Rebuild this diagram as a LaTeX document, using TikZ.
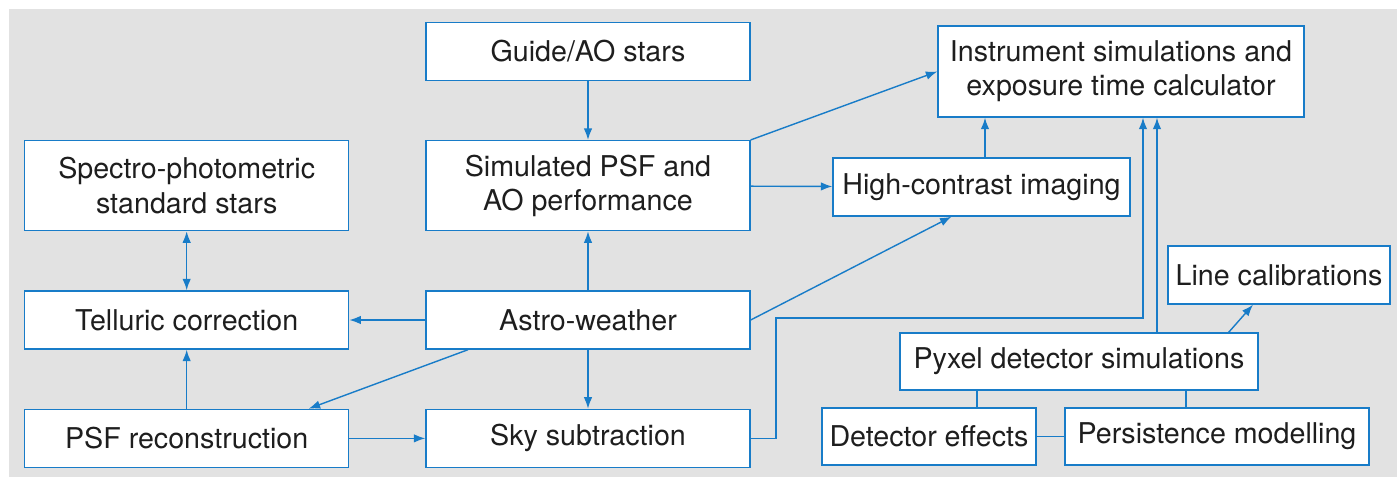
\documentclass[tikz,border=0pt]{standalone}
\usepackage{fontspec}
\setmainfont{TeX Gyre Heros}
\usepackage{tikz}
\usetikzlibrary{arrows.meta,positioning}

\definecolor{esoblue}{RGB}{24,124,200}
\definecolor{panelgrey}{RGB}{226,226,226}
\definecolor{inktext}{RGB}{30,30,30}

\begin{document}
\begin{tikzpicture}[x=0.02cm,y=-0.02cm,>={Latex[length=2.3mm,width=1.7mm]},
      node distance=1.18cm and 1.52cm,esoblue,line width=0.8pt,
      box/.style={rectangle,draw=esoblue,fill=white,line width=0.8pt,
        text=inktext,align=center,minimum height=1.16cm,
        font=\fontsize{16.3}{19.5}\selectfont},
      wide/.style={box,minimum width=6.48cm},
      tall/.style={minimum height=1.8cm},
      link/.style={->},
      tie/.style={-}]
        \useasboundingbox (0,0) rectangle (1397,477);
        \fill[panelgrey] (9,9) rectangle (1397,477);
        % middle column
        \node[wide] (astro) at (588,320) {Astro-weather};
        \node[wide,tall] (simpsf) [above = of astro] {Simulated PSF and\\AO performance};
        \node[wide] (guide) [above = of simpsf] {Guide/AO stars};
        \node[wide] (sky) [below = of astro] {Sky subtraction};
        % left column
        \node[wide] (telluric) [left = of astro] {Telluric correction};
        \node[wide,tall] (spectro) [above = of telluric] {Spectro-photometric\\standard stars};
        \node[wide] (psfrec) [below = of telluric] {PSF reconstruction};
        % right part
        \node[box,minimum width=7.32cm,minimum height=1.82cm] (inst) at (1121,71.5)
             {Instrument simulations and\\exposure time calculator};
        \node[box,minimum width=5.94cm] (hci) at (981.5,187) {High-contrast imaging};
        \node[box,minimum width=4.44cm] (linecal) at (1279,275) {Line calibrations};
        \node[box,minimum width=7.16cm,minimum height=1.14cm] (pyxel) at (1079,361.5)
             {Pyxel detector simulations};
        \node[box,minimum width=4.28cm,minimum height=1.14cm] (deteff) at (929,436.5)
             {Detector effects};
        \node[box,minimum width=6.08cm,minimum height=1.14cm] (persist) at (1217,436.5)
             {Persistence modelling};
        \coordinate (bend) at (776,318);
        \coordinate (skyin) at ([xshift=0.44cm]inst.south);
        \coordinate (pyxin) at ([xshift=0.72cm]inst.south);
        \coordinate (hcitop) at ([xshift=0.07cm]hci.north);
        \coordinate (detup) at ([xshift=0.96cm]deteff.north);
        \coordinate (perup) at ([xshift=-0.62cm]persist.north);
        \path[link] (guide) edge (simpsf)
              (simpsf) edge (hci)
              (simpsf.north east) edge (inst.west)
              (hcitop) edge (hcitop |- inst.south)
              (astro) edge (simpsf)
              (astro) edge (telluric)
              (astro) edge (sky)
              (astro.east) edge ([xshift=-0.6cm]hci.south)
              ([xshift=-2.4cm]astro.south) edge ([xshift=2.44cm]psfrec.north)
              (psfrec) edge (telluric)
              (psfrec) edge (sky)
              (pyxin |- pyxel.north) edge (pyxin)
              ([xshift=-0.6cm]pyxel.north east) edge ([xshift=-0.52cm]linecal.south);
        \draw[<->] (telluric) -- (spectro);
        \draw[link] (sky.east) -| (bend) -| (skyin);
        \draw[tie] (detup) -- (detup |- pyxel.south);
        \draw[tie] (perup) -- (perup |- pyxel.south);
        \draw[tie] (deteff) -- (persist);
    \end{tikzpicture}
\end{document}
